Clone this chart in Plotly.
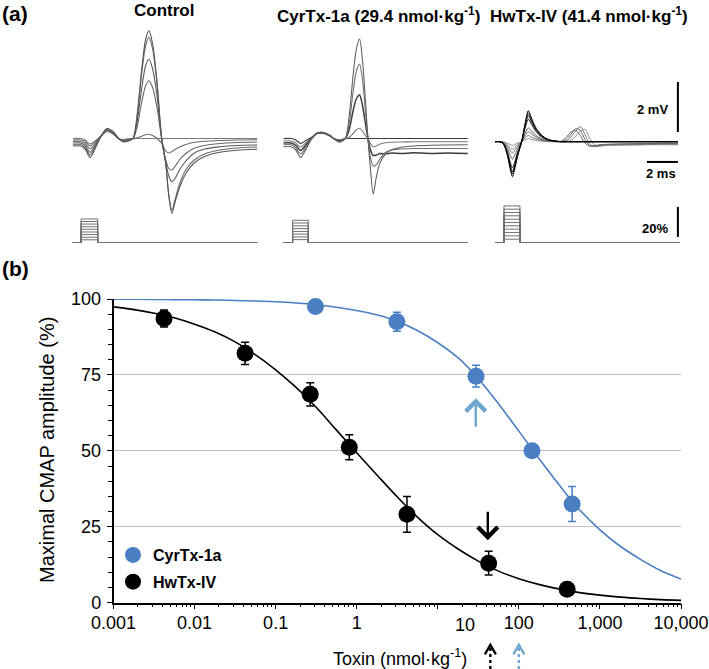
import math
import plotly.graph_objects as go

W, H = 709, 669
FONT = "Liberation Sans, Arial, Helvetica, sans-serif"
BLUE = "#4a7fc3"
ARROW_BLUE = "#6ea6cf"
GRID = "#c0c0c0"

# ---------------- Panel (b): dose-response data ----------------
hw_dose = [0.0042, 0.042, 0.267, 0.81, 4.17, 42.4, 394]
hw_amp = [93.6, 82.1, 68.6, 51.2, 29.1, 13.0, 4.4]
hw_sem = [2.8, 3.7, 3.8, 4.1, 5.9, 3.9, 1.0]

cyr_dose = [0.31, 3.13, 29.6, 145, 454]
cyr_amp = [97.5, 92.5, 74.6, 50.0, 32.5]
cyr_sem = [1.0, 3.1, 3.6, 2.0, 5.8]

fit_dose = [0.001, 0.0018, 0.0032, 0.0056, 0.01, 0.018, 0.032, 0.056, 0.1, 0.18,
            0.32, 0.56, 1, 1.8, 3.2, 5.6, 10, 18, 32, 56, 100, 180, 320, 560,
            1000, 1800, 3200, 5600, 10000]
hw_fit = [97.4, 96.5, 95.3, 93.8, 91.7, 89.1, 85.8, 81.7, 76.7, 70.8, 64.2, 56.9,
          49.4, 41.9, 34.7, 28.2, 22.4, 17.6, 13.6, 10.4, 7.9, 5.95, 4.46, 3.33,
          2.48, 1.84, 1.37, 1.01, 0.75]
cyr_fit = [99.9, 99.9, 99.85, 99.8, 99.75, 99.65, 99.5, 99.35, 99.1, 98.7, 98.1,
           97.3, 96.2, 94.7, 92.6, 89.6, 85.6, 80.5, 73.6, 65.5, 56.5, 47.2, 38.5,
           30.6, 24.0, 18.5, 14.2, 10.6, 7.8]

x_tickvals = [0.001, 0.01, 0.1, 1, 10, 100, 1000, 10000]
x_ticktext = ["0.001", "0.01", "0.1", "1", "", "100", "1,000", "10,000"]
y_tickvals = [0, 25, 50, 75, 100]

cyr_test_dose = 29.4    # solid blue arrow
hw_test_dose = 41.4     # solid black arrow
hw_marker_dose = 44.5   # dotted black arrow
cyr_marker_dose = 100   # dotted blue arrow

# ---------------- Panel (a): CMAP traces (ms, mV) ----------------
ctrl_t = [0.0, 0.5, 0.8, 1.12, 1.45, 1.8, 2.2, 2.6, 3.0, 3.3, 3.6, 3.9, 4.15, 4.45, 4.7,
          4.92, 5.15, 5.42, 5.74, 6.0, 6.2, 6.4, 6.6, 6.9, 7.3, 7.8, 8.5, 9.5, 10.6, 11.9]
ctrl_1 = [-0.30, -0.30, -0.42, -0.76, -0.40, 0.05, 0.40, 0.28, -0.02, -0.14, -0.10, 0.00, 0.90, 2.75, 3.95,
          4.31, 3.80, 2.40, 0.00, -1.00, -2.30, -3.00, -2.55, -1.95, -1.40, -1.00, -0.72, -0.55, -0.47, -0.43]
ctrl_2 = [-0.24, -0.24, -0.36, -0.66, -0.34, 0.06, 0.38, 0.26, -0.02, -0.12, -0.08, 0.00, 0.85, 2.60, 3.70,
          4.05, 3.60, 2.30, 0.00, -1.00, -2.25, -2.88, -2.45, -1.80, -1.25, -0.88, -0.62, -0.46, -0.38, -0.34]
ctrl_3 = [-0.18, -0.18, -0.28, -0.55, -0.28, 0.07, 0.36, 0.24, -0.02, -0.10, -0.06, 0.00, 0.65, 2.00, 2.90,
          3.17, 2.80, 1.80, 0.00, -0.95, -1.50, -1.73, -1.60, -1.25, -0.90, -0.60, -0.42, -0.33, -0.28, -0.26]
ctrl_4 = [-0.12, -0.12, -0.20, -0.42, -0.22, 0.08, 0.34, 0.22, -0.02, -0.08, -0.04, 0.00, 0.45, 1.45, 2.10,
          2.31, 2.05, 1.30, 0.00, -0.85, -1.20, -1.26, -1.12, -0.85, -0.60, -0.40, -0.28, -0.20, -0.16, -0.14]
ctrl_5 = [-0.06, -0.06, -0.12, -0.30, -0.15, 0.08, 0.30, 0.20, -0.02, -0.06, -0.02, 0.00, 0.03, 0.09, 0.15,
          0.17, 0.12, 0.02, -0.20, -0.50, -0.58, -0.52, -0.44, -0.34, -0.24, -0.16, -0.11, -0.08, -0.06, -0.05]
ctrl_6 = [0.00, 0.00, -0.06, -0.22, -0.10, 0.08, 0.28, 0.18, -0.02, -0.04, -0.01, 0.00, 0.00, 0.00, 0.00,
          0.00, 0.00, 0.00, 0.00, 0.00, 0.00, 0.00, 0.00, 0.00, 0.00, 0.00, 0.00, 0.00, 0.00, 0.00]

cyr_t = [0.0, 0.5, 0.8, 1.12, 1.45, 1.8, 2.2, 2.6, 3.0, 3.25, 3.6, 4.0, 4.25, 4.5, 4.72,
         4.92, 5.1, 5.3, 5.46, 5.62, 5.8, 6.0, 6.25, 6.6, 7.0, 7.6, 8.4, 9.5, 10.6, 11.9]
cyr_1 = [-0.33, -0.33, -0.45, -0.76, -0.45, -0.05, 0.22, 0.24, 0.12, 0.00, -0.15, 0.00, 0.90, 2.50, 3.60,
         3.98, 3.20, 1.50, 0.00, -1.20, -2.22, -1.55, -0.95, -0.62, -0.45, -0.35, -0.30, -0.27, -0.26, -0.25]
cyr_2 = [-0.25, -0.25, -0.36, -0.62, -0.36, -0.02, 0.22, 0.24, 0.12, 0.00, -0.12, 0.00, 0.60, 1.85, 2.70,
         2.98, 2.40, 1.10, 0.00, -0.75, -1.10, -1.05, -0.80, -0.55, -0.45, -0.42, -0.40, -0.40, -0.40, -0.40]
cyr_3 = [-0.18, -0.18, -0.27, -0.48, -0.27, 0.00, 0.22, 0.23, 0.12, 0.00, -0.10, 0.00, 0.35, 1.10, 1.60,
         1.74, 1.35, 0.60, 0.00, -0.45, -0.68, -0.66, -0.60, -0.62, -0.58, -0.60, -0.57, -0.60, -0.58, -0.60]
cyr_4 = [-0.10, -0.10, -0.18, -0.35, -0.18, 0.02, 0.22, 0.22, 0.11, 0.00, -0.08, 0.00, 0.05, 0.20, 0.35,
         0.41, 0.30, 0.12, 0.00, -0.20, -0.33, -0.30, -0.22, -0.17, -0.15, -0.14, -0.13, -0.13, -0.13, -0.13]
cyr_5 = [0.00, 0.00, -0.06, -0.20, -0.08, 0.04, 0.20, 0.20, 0.10, 0.00, -0.06, 0.00, 0.00, 0.00, 0.00,
         0.00, 0.00, 0.00, 0.00, 0.00, 0.00, 0.00, 0.00, 0.00, 0.00, 0.00, 0.00, 0.00, 0.00, 0.00]

hw_t = [0.0, 0.3, 0.55, 0.8, 1.0, 1.12, 1.25, 1.45, 1.72, 1.95, 2.15, 2.35, 2.6, 2.9, 3.2, 3.6, 4.0,
        4.3, 4.6, 4.9, 5.2, 5.5, 5.8, 6.1, 6.4, 6.7, 7.0, 7.4, 8.0, 9.0, 10.0, 11.0, 11.8]
hw_1 = [0, 0, -0.10, -0.55, -1.15, -1.40, -1.15, -0.60, 0.00, 0.75, 1.24, 0.95, 0.60, 0.33, 0.17, 0.06, 0.02,
        0, 0, 0, 0, 0, 0, 0, 0, 0, 0, 0, 0, 0, 0, 0, 0]
hw_2 = [0, 0, -0.09, -0.50, -1.06, -1.30, -1.06, -0.55, 0.00, 0.70, 1.15, 0.88, 0.55, 0.30, 0.15, 0.05, 0.02,
        0, 0, 0, 0, 0, 0, 0, 0, 0, 0, 0, 0, 0, 0, 0, 0]
hw_3 = [0, 0, -0.08, -0.46, -0.98, -1.20, -0.98, -0.50, 0.00, 0.64, 1.05, 0.80, 0.50, 0.27, 0.13, 0.05, 0.01,
        0, 0, 0, 0, 0, 0, 0, 0, 0, 0, 0, 0, 0, 0, 0, 0]
hw_4 = [0, 0, -0.07, -0.40, -0.86, -1.05, -0.86, -0.44, 0.00, 0.55, 0.90, 0.70, 0.44, 0.24, 0.12, 0.04, 0.01,
        0, 0, 0, 0, 0, 0, 0, 0, 0, 0, 0, 0, 0, 0, 0, 0]
hw_5 = [0, 0, -0.05, -0.27, -0.57, -0.70, -0.57, -0.29, 0.00, 0.34, 0.55, 0.43, 0.27, 0.15, 0.07, 0.03, 0.01,
        0.02, 0.18, 0.38, 0.45, 0.25, -0.05, -0.18, -0.16, -0.13, -0.11, -0.10, -0.09, -0.08, -0.07, -0.06, -0.06]
hw_6 = [0, 0, -0.03, -0.18, -0.37, -0.45, -0.37, -0.19, 0.00, 0.25, 0.40, 0.31, 0.20, 0.11, 0.05, 0.02, 0.00,
        0.00, 0.08, 0.30, 0.52, 0.45, 0.10, -0.15, -0.18, -0.14, -0.12, -0.11, -0.10, -0.09, -0.08, -0.07, -0.07]
hw_7 = [0, 0, -0.02, -0.12, -0.25, -0.30, -0.25, -0.12, 0.00, 0.16, 0.25, 0.19, 0.12, 0.07, 0.03, 0.01, 0.00,
        0.00, 0.03, 0.18, 0.42, 0.60, 0.30, -0.08, -0.20, -0.18, -0.15, -0.13, -0.12, -0.12, -0.11, -0.10, -0.10]
hw_8 = [0, 0, -0.01, -0.06, -0.12, -0.15, -0.12, -0.06, 0.00, 0.08, 0.12, 0.09, 0.06, 0.03, 0.01, 0.00, 0.00,
        0.00, 0.00, 0.05, 0.22, 0.42, 0.50, 0.15, -0.12, -0.18, -0.16, -0.15, -0.14, -0.13, -0.12, -0.12, -0.12]

# stimulus intensity steps (% of max), pulse on/off (ms)
ctrl_stim_levels = [1.8, 3.5, 5.3, 7.0, 8.8, 10.5, 12.3, 14.0, 15.7]
cyr_stim_levels = [1.9, 3.7, 5.6, 7.4, 9.3, 11.1, 13.0, 14.8]
hw_stim_levels = [2.2, 4.4, 6.7, 8.9, 11.1, 13.3, 15.5, 17.8, 20.0, 22.2, 24.4]
ctrl_stim_on, ctrl_stim_off = 0.54, 1.61
cyr_stim_on, cyr_stim_off = 0.60, 1.61
hw_stim_on, hw_stim_off = 0.58, 1.61
stim_end = 11.9

scale_mV, scale_ms, scale_pct = 2, 2, 20

# ---------------- layout geometry (pixels) ----------------
def px_x(x):
    return x / W

def px_y(y):
    return 1 - y / H

PB_L, PB_R, PB_T, PB_B = 113.5, 681, 299, 602.7
MS_PX, MV_PX, PCT_PX = 15.5, 25.0, 1.5
PANEL_MS = 12
PA_T, PA_B = 18, 228
ST_T, ST_B, ST_BASE = 198, 246, 242.5
CTRL_X0, CYR_X0, HW_X0 = 72.7, 283.3, 495.0
BASE_A, BASE_HW = 138.5, 141.7
decade_px = (PB_R - PB_L) / 7.0

fig = go.Figure()

def line_tr(x, y, xa, ya, color, width=1.1, shape="spline", dash=None):
    fig.add_trace(go.Scatter(x=x, y=y, mode="lines", xaxis=xa, yaxis=ya,
                             line=dict(color=color, width=width, shape=shape, dash=dash, simplify=False,
                                       smoothing=0.8 if shape == "spline" else None),
                             showlegend=False, hoverinfo="skip"))

# panel (a) traces: Control (x2/y2), CyrTx (x3/y5), HwTx (x4/y4)
for v, c in [(ctrl_6, "#7a7a7a"), (ctrl_5, "#6a6a6a"), (ctrl_4, "#666666"),
             (ctrl_3, "#5a5a5a"), (ctrl_2, "#6a6a6a"), (ctrl_1, "#555555")]:
    line_tr(ctrl_t, v, "x2", "y2", c)
for v, c in [(cyr_5, "#3a3a3a"), (cyr_4, "#777777"), (cyr_3, "#3c3c3c"),
             (cyr_2, "#707070"), (cyr_1, "#606060")]:
    line_tr(cyr_t, v, "x3", "y5", c, width=1.1 if c != "#3c3c3c" else 1.5)
for v, c in [(hw_8, "#8a8a8a"), (hw_7, "#7a7a7a"), (hw_6, "#6a6a6a"), (hw_5, "#606060"),
             (hw_4, "#222222"), (hw_3, "#111111"), (hw_2, "#111111"), (hw_1, "#000000")]:
    line_tr(hw_t, v, "x4", "y4", c, width=1.0)

# stimulus pulses: Control (x2/y3), CyrTx (x3/y6), HwTx (x4/y7)
for levels, on, off, xa, ya in [(ctrl_stim_levels, ctrl_stim_on, ctrl_stim_off, "x2", "y3"),
                                (cyr_stim_levels, cyr_stim_on, cyr_stim_off, "x3", "y6"),
                                (hw_stim_levels, hw_stim_on, hw_stim_off, "x4", "y7")]:
    for lv in levels:
        line_tr([0, on, on, off, off, stim_end], [0, 0, lv, lv, 0, 0], xa, ya,
                "#707070", width=1.0, shape="linear")

# scale bars (in HwTx panel coordinates)
bar_t = PANEL_MS - 0.2
line_tr([bar_t, bar_t], [0.39, 0.39 + scale_mV], "x4", "y4", "black", width=2, shape="linear")
line_tr([bar_t - scale_ms, bar_t], [-0.81, -0.81], "x4", "y4", "black", width=2, shape="linear")
line_tr([bar_t, bar_t], [3.7, 3.7 + scale_pct], "x4", "y7", "black", width=2, shape="linear")

# panel (b) fit curves
fig.add_trace(go.Scatter(x=fit_dose, y=cyr_fit, mode="lines", line=dict(color=BLUE, width=1.6, shape="spline"),
                         showlegend=False, hoverinfo="skip"))
fig.add_trace(go.Scatter(x=fit_dose, y=hw_fit, mode="lines", line=dict(color="black", width=1.6, shape="spline"),
                         showlegend=False, hoverinfo="skip"))
# data points
fig.add_trace(go.Scatter(x=cyr_dose, y=cyr_amp, mode="markers", name="<b>CyrTx-1a</b>",
                         marker=dict(size=17, color=BLUE),
                         error_y=dict(type="data", array=cyr_sem, color=BLUE, thickness=1.5, width=4),
                         cliponaxis=False, legendgroup="a"))
fig.add_trace(go.Scatter(x=hw_dose, y=hw_amp, mode="markers", name="<b>HwTx-IV</b>",
                         marker=dict(size=17, color="black"),
                         error_y=dict(type="data", array=hw_sem, color="black", thickness=1.5, width=4),
                         cliponaxis=False, legendgroup="b"))

# dotted dose arrows under the x axis (overlay log axis x5/y8: 0 = figure bottom)
head_f = 10 ** (5.5 / decade_px)
for d, c in [(hw_marker_dose, "black"), (cyr_marker_dose, ARROW_BLUE)]:
    line_tr([d, d], [0, 0.62], "x5", "y8", c, width=2.4, shape="linear", dash="dot")
    line_tr([d / head_f, d, d * head_f], [0.43, 0.71, 0.43], "x5", "y8", c, width=2.3, shape="linear")

tickfont = dict(family=FONT, size=18, color="black")

def hidden_x(x0, anchor):
    return dict(visible=False, range=[0, PANEL_MS], anchor=anchor,
                domain=[px_x(x0), px_x(x0 + PANEL_MS * MS_PX)])

def hidden_y(anchor, top, bot, base, scale):
    return dict(visible=False, anchor=anchor, domain=[px_y(bot), px_y(top)],
                range=[(base - bot) / scale, (base - top) / scale])

layout = dict(
    width=W, height=H, autosize=False,
    margin=dict(l=0, r=0, t=0, b=0, pad=0, autoexpand=False),
    paper_bgcolor="white", plot_bgcolor="rgba(0,0,0,0)",
    font=dict(family=FONT, color="black"),
    showlegend=True,
    legend=dict(x=px_x(113), y=px_y(538), xanchor="left", yanchor="top",
                font=dict(family=FONT, size=16, color="black"),
                bgcolor="rgba(0,0,0,0)", tracegroupgap=3, itemsizing="trace"),
    xaxis=dict(type="log", range=[-3, 4], domain=[px_x(PB_L), px_x(PB_R)], anchor="y",
               tickvals=x_tickvals, ticktext=x_ticktext, ticks="outside", ticklen=5,
               tickwidth=1.2, tickcolor="black", showline=True, linecolor="black", linewidth=1.5,
               showgrid=False, zeroline=False, tickfont=tickfont, ticklabelstandoff=-2,
               minor=dict(ticks="outside", ticklen=3, tickwidth=1, tickcolor="black",
                          dtick="D1", showgrid=False)),
    yaxis=dict(range=[0, 100], domain=[px_y(PB_B), px_y(PB_T)], anchor="x",
               tickvals=y_tickvals, ticks="outside", ticklen=5, tickwidth=1.2, tickcolor="black",
               showline=True, linecolor="black", linewidth=1.5, showgrid=True, gridcolor=GRID,
               gridwidth=1, zeroline=False, tickfont=tickfont, ticklabelstandoff=2,
               minor=dict(dtick=5, ticks="outside", ticklen=4, tickwidth=1, tickcolor="black",
                          showgrid=False)),
    xaxis2=hidden_x(CTRL_X0, "y2"),
    xaxis3=hidden_x(CYR_X0, "y5"),
    xaxis4=hidden_x(HW_X0, "y4"),
    yaxis2=hidden_y("x2", PA_T, PA_B, BASE_A, MV_PX),
    yaxis5=hidden_y("x3", PA_T, PA_B, BASE_A, MV_PX),
    yaxis4=hidden_y("x4", PA_T, PA_B, BASE_HW, MV_PX),
    yaxis3=hidden_y("x2", ST_T, ST_B, ST_BASE, PCT_PX),
    yaxis6=hidden_y("x3", ST_T, ST_B, ST_BASE, PCT_PX),
    yaxis7=hidden_y("x4", ST_T, ST_B, ST_BASE, PCT_PX),
    xaxis5=dict(visible=False, type="log", range=[-3, 4], anchor="y8",
                domain=[px_x(PB_L), px_x(PB_R)]),
    yaxis8=dict(visible=False, range=[0, 1], anchor="x5", domain=[0, px_y(635)]),
)
fig.update_layout(**layout)

ann = []
def text(x, y, s, size, bold=False, xanchor="center", xref="paper", yref="paper", angle=0, color="black"):
    ann.append(dict(x=x, y=y, xref=xref, yref=yref, text=(f"<b>{s}</b>" if bold else s),
                    showarrow=False, xanchor=xanchor, yanchor="middle", textangle=angle,
                    font=dict(family=FONT, size=size, color=color)))

text(px_x(0), px_y(14), "(a)", 21, True, xanchor="left")
text(px_x(0), px_y(268), "(b)", 21, True, xanchor="left")
text(px_x(164), px_y(10), "Control", 17, True)
text(px_x(379), px_y(15), "CyrTx-1a (29.4 nmol·kg<sup>-1</sup>)", 17, True)
text(px_x(589), px_y(15), "HwTx-IV (41.4 nmol·kg<sup>-1</sup>)", 17, True)
text(bar_t - 0.5, 1.27, "2 mV", 13, True, xanchor="right", xref="x4", yref="y4")
text(bar_t, -1.27, "2 ms", 13, True, xanchor="right", xref="x4", yref="y4")
text(bar_t - 0.5, 9.0, "20%", 13, True, xanchor="right", xref="x4", yref="y7")
text(px_x(400), px_y(657), "Toxin (nmol·kg<sup>-1</sup>)", 18)
text(px_x(47), px_y(450), "Maximal CMAP amplitude (%)", 20, angle=-90)
# the "10" tick label sits right of its tick in the original
text(1 + 27 / decade_px, px_y(625), "10", 18, xref="x")

# solid arrows at the test doses
def arrow(dose, y, ay, color):
    ann.append(dict(x=math.log10(dose), y=y, xref="x", yref="y", ax=0, ay=ay, text="",
                    showarrow=True, arrowhead=4, arrowsize=1.6, arrowwidth=2.4, arrowcolor=color))

arrow(cyr_test_dose, 67.3, 30, ARROW_BLUE)
arrow(hw_test_dose, 20.6, -30, "black")
fig.update_layout(annotations=ann)

fig.write_html("out.html", config={"displayModeBar": False},
               post_script="document.body.style.margin='0px';")
